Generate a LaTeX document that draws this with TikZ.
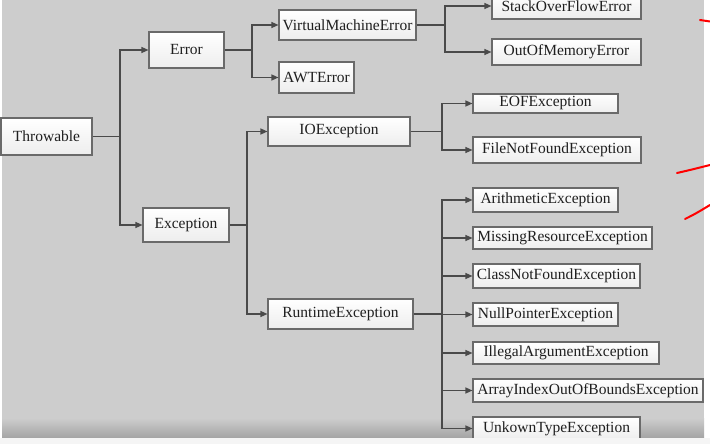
\documentclass[tikz,border=0pt]{standalone}
\usepackage{fontspec}
\setmainfont{Liberation Serif}
\usetikzlibrary{arrows.meta}
\definecolor{panel}{HTML}{CDCDCD}
\definecolor{linec}{HTML}{4A4A4A}
\definecolor{boxline}{HTML}{6A6A6A}
\tikzset{
  cls/.style={draw=boxline, line width=1.1pt, top color=white, bottom color=black!7,
    inner sep=0pt, font=\fontsize{15.5}{18}\selectfont, text=black!88},
  conn/.style={draw=linec, line width=1.2pt},
  arr/.style={conn, -{Triangle[length=7pt,width=6pt]}},
  redmark/.style={draw=red, line width=2pt, line cap=round}
}
\newcommand{\cbox}[5]{\node[cls, minimum width=#3pt, minimum height=#4pt] (#1) at (#2) {#5};}
\begin{document}
\begin{tikzpicture}[x=1pt,y=-1pt]
\useasboundingbox (0,0) rectangle (710,444);
\fill[white] (0,0) rectangle (710,444);
\fill[panel] (2,0) rectangle (704,437);
\shade[top color=panel, bottom color=black!35] (2,418) rectangle (704,437);
% nodes
\cbox{thr}{46.5,136.5}{91}{37}{Throwable}
\cbox{err}{186.5,50}{75}{36}{Error}
\cbox{exc}{186,225}{86}{34}{Exception}
\cbox{vme}{347.5,25}{137}{30}{VirtualMachineError}
\cbox{awt}{316.5,77.5}{75}{31}{AWTError}
\cbox{ioe}{339,131.5}{142}{29}{IOException}
\cbox{rte}{340.5,314}{145}{30}{RuntimeException}
\cbox{sof}{566.5,6}{149}{26}{StackOverFlowError}
\cbox{oom}{566.5,52}{149}{26}{OutOfMemoryError}
\cbox{eof}{545.5,103.5}{145}{19}{EOFException}
\cbox{fnf}{557,150}{168}{26}{FileNotFoundException}
\cbox{ari}{545.5,200}{145}{24}{ArithmeticException}
\cbox{mis}{562.5,238}{179}{22}{MissingResourceException}
\cbox{cnf}{556.5,276}{167}{24}{ClassNotFoundException}
\cbox{npe}{545.5,314.5}{145}{23}{NullPointerException}
\cbox{iae}{566,353}{186}{22}{IllegalArgumentException}
\cbox{aio}{588,390.5}{230}{23}{ArrayIndexOutOfBoundsException}
\cbox{ute}{556.5,428.5}{167}{23}{UnkownTypeException}
% connectors
\coordinate (j1) at (120,136.5);
\draw[conn] (thr.east) -- (j1);
\draw[arr] (j1) |- (err.west);
\draw[arr] (j1) |- (exc.west);
\coordinate (j2) at (252,50);
\draw[conn] (err.east) -- (j2);
\draw[arr] (j2) |- (vme.west);
\draw[arr] (j2) |- (awt.west);
\coordinate (j3) at (445,25);
\draw[conn] (vme.east) -- (j3);
\draw[arr] (j3) |- (sof.west);
\draw[arr] (j3) |- (oom.west);
\coordinate (j4) at (247,225);
\draw[conn] (exc.east) -- (j4);
\draw[arr] (j4) |- (ioe.west);
\draw[arr] (j4) |- (rte.west);
\coordinate (j5) at (442,131.5);
\draw[conn] (ioe.east) -- (j5);
\draw[arr] (j5) |- (eof.west);
\draw[arr] (j5) |- (fnf.west);
\coordinate (j6) at (442,314);
\draw[conn] (rte.east) -- (j6);
\foreach \n in {ari,mis,cnf,npe,iae,aio,ute} \draw[arr] (j6) |- (\n.west);
% bottom strip over the last box
\fill[black!4] (0,437.5) rectangle (710,444);
% red marks
\draw[redmark] (700,20) -- (710,21.5);
\draw[redmark] (677,173) .. controls (690,170) .. (710,165);
\draw[redmark] (685,219) .. controls (695,214) .. (710,205);
\end{tikzpicture}
\end{document}
